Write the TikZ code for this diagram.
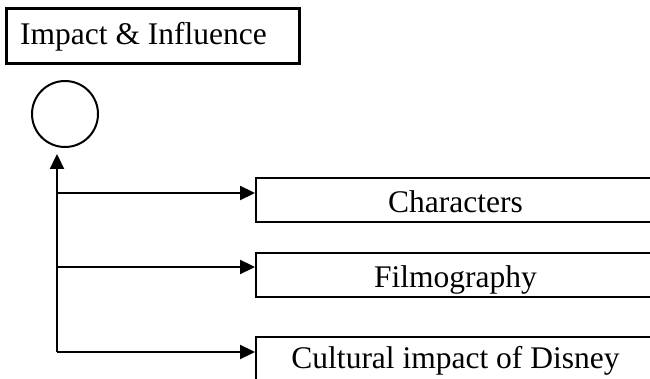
\documentclass[tikz,border=0pt]{standalone}
\usepackage{fontspec}
\setmainfont{Liberation Serif}
\usetikzlibrary{arrows.meta}
\begin{document}
\begin{tikzpicture}[x=1pt,y=-1pt,
  txt/.style={font=\fontsize{31.5}{36}\selectfont},
  titlebox/.style={draw, line width=3.2pt, minimum width=293pt, minimum height=55pt, inner sep=0pt},
  hub/.style={draw, circle, line width=2pt, minimum size=66pt, inner sep=0pt},
  itembox/.style={draw, line width=2pt, minimum width=399pt, minimum height=44pt,
                  inner sep=0pt, txt, text height=25pt, text depth=0pt},
  link/.style={line width=2.3pt, -{Triangle[length=15pt,width=14pt]}}]
  \useasboundingbox (0,0) rectangle (650,379);
  \clip (0,0) rectangle (650,379);

  % heading
  \node[titlebox, anchor=north west] (title) at (5,7) {};
  \node[txt, anchor=base west, inner sep=0pt] (titletext) at (20,45) {Impact \& Influence};

  % hub circle
  \node[hub] (hub) at (65,114) {};

  % topic boxes
  \node[itembox, anchor=north west] (c1) at (255,177) {Characters};
  \node[itembox, anchor=north west] (c2) at (255,252) {Filmography};
  \node[itembox, anchor=north west, text height=22pt, text depth=4pt] (c3) at (255,336) {Cultural impact of Disney};

  % trunk and branches
  \coordinate (top) at (57,154);
  \coordinate (j1) at (57,193);
  \coordinate (j2) at (57,267);
  \coordinate (j3) at (57,352);

  \draw[link] (j3) -- (top);
  \draw[link] (j1) -- (j1 -| c1.west);
  \draw[link] (j2) -- (j2 -| c2.west);
  \draw[link] (j3) -- (j3 -| c3.west);
\end{tikzpicture}
\end{document}
